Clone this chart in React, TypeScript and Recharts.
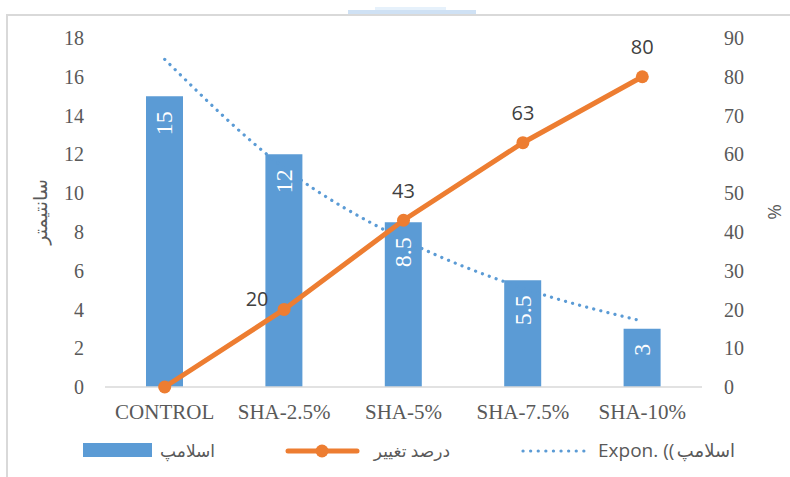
import React from 'react';
import { ComposedChart, Bar, Line, XAxis, YAxis, LabelList } from 'recharts';

const categories = ['CONTROL', 'SHA-2.5%', 'SHA-5%', 'SHA-7.5%', 'SHA-10%'];
const slumpValues = [15, 12, 8.5, 5.5, 3];
const changePercent = [0, 20, 43, 63, 80];
const trendValues = [16.9, 11.3, 7.6, 5.1, 3.4];
const leftTicks = [0, 2, 4, 6, 8, 10, 12, 14, 16, 18];
const rightTicks = [0, 10, 20, 30, 40, 50, 60, 70, 80, 90];

const data = categories.map((name, i) => ({
  name,
  slump: slumpValues[i],
  change: changePercent[i],
  trend: trendValues[i],
}));

const BLUE = '#5B9BD5';
const ORANGE = '#ED7D31';
const GREY = '#595959';
const SERIF = 'Liberation Serif, serif';
const SANS = 'Open Sans, DejaVu Sans, sans-serif';

const BarValueLabel = (props: any) => {
  const { x, y, width, value } = props;
  const cx = Number(x) + Number(width) / 2;
  const top = Number(y) + 15;
  return (
    <text
      x={cx}
      y={top}
      transform={`rotate(-90 ${cx} ${top})`}
      textAnchor="end"
      dominantBaseline="central"
      fill="#fff"
      style={{ fontFamily: SERIF, fontSize: 24 }}
    >
      {value}
    </text>
  );
};

const ChangeLabel = (props: any) => {
  const { x, y, value, index } = props;
  if (value === 0) return null;
  const left = index === 1;
  return (
    <text
      x={Number(x) + (left ? -27 : 0)}
      y={Number(y) + (left ? -11 : -30)}
      textAnchor="middle"
      dominantBaseline="central"
      fill="#404040"
      style={{ fontFamily: SANS, fontSize: 20 }}
    >
      {value}
    </text>
  );
};

export default function App() {
  return (
    <div style={{ position: 'absolute', left: 0, top: 0, width: 790, height: 477, background: '#fff', overflow: 'hidden' }}>
      {/* chart frame and selection glow at the top */}
      <div style={{ position: 'absolute', left: 6, top: 14, width: 800, height: 480, borderLeft: '2px solid #d9d9d9', borderTop: '2px solid #d9d9d9' }} />
      <div style={{ position: 'absolute', left: 375, top: 7, width: 71, height: 4, background: '#e6f1fb' }} />
      <div style={{ position: 'absolute', left: 348, top: 10, width: 128, height: 4, background: '#cfe1f4' }} />

      <div style={{ position: 'absolute', left: 0, top: 0 }}>
        <ComposedChart
          width={790}
          height={477}
          data={data}
          margin={{ top: 38, right: 28, bottom: 50, left: 25 }}
        >
          <XAxis
            dataKey="name"
            height={40}
            axisLine={{ stroke: '#d9d9d9', strokeWidth: 1.5 }}
            tickLine={false}
            tickSize={0}
            tickMargin={17}
            interval={0}
            tick={{ fill: GREY, fontFamily: SERIF, fontSize: 21 }}
          />
          <YAxis
            yAxisId="left"
            width={80}
            domain={[0, 18]}
            ticks={leftTicks}
            axisLine={false}
            tickLine={false}
            tickSize={0}
            tickMargin={21}
            tick={{ fill: GREY, fontFamily: SERIF, fontSize: 20 }}
          />
          <YAxis
            yAxisId="right"
            orientation="right"
            width={60}
            domain={[0, 90]}
            ticks={rightTicks}
            axisLine={false}
            tickLine={false}
            tickSize={0}
            tickMargin={22}
            tick={{ fill: GREY, fontFamily: SERIF, fontSize: 20 }}
          />
          <Bar yAxisId="left" dataKey="slump" fill={BLUE} barSize={37} isAnimationActive={false}>
            <LabelList dataKey="slump" content={BarValueLabel} />
          </Bar>
          <Line
            yAxisId="left"
            dataKey="trend"
            type="monotone"
            stroke={BLUE}
            strokeWidth={3.2}
            strokeDasharray="0.1 7.2"
            strokeLinecap="round"
            dot={false}
            activeDot={false}
            isAnimationActive={false}
          />
          <Line
            yAxisId="right"
            dataKey="change"
            type="linear"
            stroke={ORANGE}
            strokeWidth={5}
            dot={{ r: 6.5, fill: ORANGE, stroke: ORANGE, strokeWidth: 0 }}
            activeDot={false}
            isAnimationActive={false}
          >
            <LabelList dataKey="change" content={ChangeLabel} />
          </Line>
        </ComposedChart>
      </div>

      {/* axis titles and legend */}
      <svg width={790} height={477} style={{ position: 'absolute', left: 0, top: 0, pointerEvents: 'none' }}>
        <text
          x={40}
          y={212}
          transform="rotate(-90 40 212)"
          textAnchor="middle"
          dominantBaseline="central"
          fill={GREY}
          style={{ fontFamily: SANS, fontSize: 19 }}
        >
          سانتیمتر
        </text>
        <text
          x={774}
          y={212}
          transform="rotate(-90 774 212)"
          textAnchor="middle"
          dominantBaseline="central"
          fill={GREY}
          style={{ fontFamily: SANS, fontSize: 19 }}
        >
          %
        </text>

        <rect x={83} y={443} width={69} height={14} fill={BLUE} />
        <text x={215} y={450} textAnchor="end" dominantBaseline="central" fill={GREY} style={{ fontFamily: SANS, fontSize: 17 }}>
          اسلامپ
        </text>

        <line x1={288} y1={451} x2={357} y2={451} stroke={ORANGE} strokeWidth={5} strokeLinecap="round" />
        <circle cx={322} cy={451} r={6.5} fill={ORANGE} />
        <text x={450} y={450} textAnchor="end" dominantBaseline="central" fill={GREY} style={{ fontFamily: SANS, fontSize: 17 }}>
          درصد تغییر
        </text>

        <line x1={523} y1={451} x2={591} y2={451} stroke={BLUE} strokeWidth={3.2} strokeDasharray="0.1 7.5" strokeLinecap="round" />
        <text x={598} y={450} textAnchor="start" dominantBaseline="central" fill={GREY} style={{ fontFamily: SANS, fontSize: 19 }}>
          Expon. ((
        </text>
        <text x={735} y={450} textAnchor="end" dominantBaseline="central" fill={GREY} style={{ fontFamily: SANS, fontSize: 18 }}>
          اسلامپ
        </text>
      </svg>
    </div>
  );
}
